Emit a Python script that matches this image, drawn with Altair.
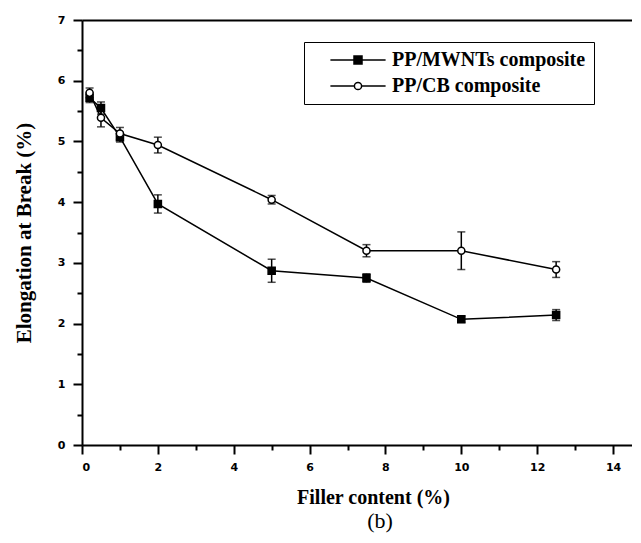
import altair as alt
import pandas as pd

# ---- data ----
filler = [0.2, 0.5, 1, 2, 5, 7.5, 10, 12.5]
mwnt = [5.72, 5.55, 5.07, 3.97, 2.87, 2.75, 2.07, 2.14]
mwnt_err = [0.08, 0.10, 0.08, 0.15, 0.19, 0.07, 0.05, 0.09]
cb = [5.80, 5.39, 5.13, 4.94, 4.04, 3.20, 3.20, 2.89]
cb_err = [0.08, 0.15, 0.10, 0.13, 0.07, 0.10, 0.31, 0.13]
series = ["PP/MWNTs composite", "PP/CB composite"]
x_major = [0, 2, 4, 6, 8, 10, 12, 14]
x_minor = [1, 3, 5, 7, 9, 11, 13]
y_major = [0, 1, 2, 3, 4, 5, 6, 7]
y_minor = [0.5, 1.5, 2.5, 3.5, 4.5, 5.5, 6.5]

rows = []
for name, vals, errs in [(series[0], mwnt, mwnt_err), (series[1], cb, cb_err)]:
    for i, (xv, yv, ev) in enumerate(zip(filler, vals, errs)):
        rows.append({"series": name, "x": xv, "y": yv, "lo": yv - ev, "hi": yv + ev, "order": i})
df = pd.DataFrame(rows)

XDOM = [0, 14.5]
YDOM = [0, 7]
xs = alt.Scale(domain=XDOM, nice=False, zero=False)
ys = alt.Scale(domain=YDOM, nice=False)

tick_font = "DejaVu Sans"
serif = "Liberation Serif"

x_main = alt.Axis(values=x_major, orient="bottom", format="d", grid=False,
                  tickSize=9, tickWidth=2, tickColor="black", domainWidth=2, domainColor="black",
                  labelFont=tick_font, labelFontWeight="bold", labelFontSize=11, labelColor="black",
                  labelPadding=7, title="Filler content (%)", titleFont=serif, titleFontSize=20,
                  titleFontWeight="bold", titleColor="black", titlePadding=15, titleX=291)
y_main = alt.Axis(values=y_major, orient="left", format="d", grid=False,
                  tickSize=9, tickWidth=2, tickColor="black", domainWidth=2, domainColor="black",
                  labelFont=tick_font, labelFontWeight="bold", labelFontSize=11, labelColor="black",
                  labelPadding=8, title="Elongation at Break (%)", titleFont=serif, titleFontSize=21,
                  titleFontWeight="bold", titleColor="black", titlePadding=23)
x_minor_ax = alt.Axis(values=x_minor, orient="bottom", labels=False, domain=False, grid=False,
                      tickSize=5, tickWidth=2, tickColor="black", title=None)
y_minor_ax = alt.Axis(values=y_minor, orient="left", labels=False, domain=False, grid=False,
                      tickSize=5, tickWidth=2, tickColor="black", title=None)
x_top_ax = alt.Axis(orient="top", labels=False, ticks=False, grid=False, domain=True,
                    domainWidth=2, domainColor="black", title=None)

# legend symbols: a line through the marker (symbolSize 64 -> unit = 4 px)
MWNT_PATH = "M-6.9,0H6.9M-1,-1H1V1H-1Z"
CB_PATH = "M-6.9,0H-0.9M0.9,0H6.9M0.9,0A0.9,0.9,0,1,1,-0.9,0A0.9,0.9,0,1,1,0.9,0Z"

legend = alt.Legend(
    title=None, orient="none", legendX=222, legendY=22,
    strokeColor="black", padding=8, rowPadding=6,
    symbolSize=64, symbolOffset=36, labelOffset=24,
    symbolStrokeColor="black", symbolStrokeWidth=1.5, symbolOpacity=1,
    labelFont=serif, labelFontSize=20, labelFontWeight="bold", labelColor="black", labelLimit=400,
)

base = alt.Chart(df)
is_mwnt = alt.datum.series == series[0]

lines = base.mark_line(strokeWidth=1.5, color="black").encode(
    x=alt.X("x:Q", scale=xs, axis=x_main),
    y=alt.Y("y:Q", scale=ys, axis=y_main),
    detail="series:N",
    order="order:Q",
)

rules = base.mark_rule(color="black", strokeWidth=1.5).encode(
    x=alt.X("x:Q", scale=xs, axis=x_minor_ax),
    y=alt.Y("lo:Q", scale=ys, axis=y_minor_ax),
    y2="hi:Q",
)

caps_lo = base.mark_tick(color="black", orient="horizontal", size=8, thickness=1.5).encode(
    x=alt.X("x:Q", scale=xs, axis=None),
    y=alt.Y("lo:Q", scale=ys, axis=None),
)
caps_hi = base.mark_tick(color="black", orient="horizontal", size=8, thickness=1.5).encode(
    x=alt.X("x:Q", scale=xs, axis=None),
    y=alt.Y("hi:Q", scale=ys, axis=None),
)

points = base.mark_point(filled=True, stroke="black", strokeWidth=1.5, opacity=1, size=50).encode(
    x=alt.X("x:Q", scale=xs, axis=x_top_ax),
    y=alt.Y("y:Q", scale=ys, axis=None),
    shape=alt.condition(is_mwnt, alt.value("square"), alt.value("circle")),
    fill=alt.condition(is_mwnt, alt.value("black"), alt.value("white")),
)

# legend-only layer (no data rows drawn)
legend_layer = base.transform_filter("false").mark_point(
    filled=True, strokeWidth=1.5, opacity=1
).encode(
    x=alt.X("x:Q", scale=xs, axis=None),
    y=alt.Y("y:Q", scale=ys, axis=None),
    shape=alt.Shape("series:N", scale=alt.Scale(domain=series, range=[MWNT_PATH, CB_PATH]), legend=legend),
    fill=alt.Fill("series:N", scale=alt.Scale(domain=series, range=["black", "white"]), legend=legend),
    stroke=alt.Stroke("series:N", scale=alt.Scale(domain=series, range=["black", "black"]), legend=legend),
)

chart = alt.layer(lines, rules, caps_lo, caps_hi, points, legend_layer).resolve_axis(
    x="independent", y="independent"
).properties(
    width=550, height=425,
    autosize=alt.AutoSizeParams(type="none"),
    padding={"left": 74, "top": 12, "right": 0, "bottom": 90},
    title=alt.TitleParams("(b)", orient="bottom", font=serif, fontSize=22, fontWeight="normal",
                          color="black", offset=4, dx=23, anchor="middle"),
).configure_view(stroke=None).configure(background="white")

chart.save("out.html", embed_options={"renderer": "svg", "actions": False})
